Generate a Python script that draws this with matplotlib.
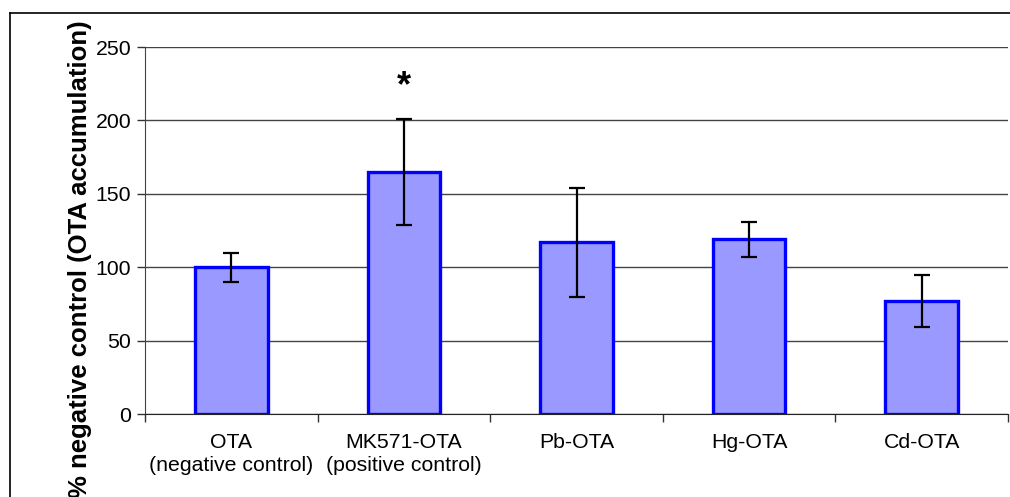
import matplotlib
matplotlib.use("Agg")
import matplotlib.pyplot as plt
from matplotlib.lines import Line2D

plt.rcParams['font.family'] = ['Liberation Sans', 'DejaVu Sans']

categories = ["OTA\n(negative control)", "MK571-OTA\n(positive control)", "Pb-OTA", "Hg-OTA", "Cd-OTA"]
values = [100, 165, 117, 119, 77]
errors = [10, 36, 37, 12, 18]
significance = ["", "*", "", "", ""]
yticks = [0, 50, 100, 150, 200, 250]

W, H = 1010, 497
fig = plt.figure(figsize=(W / 100, H / 100), dpi=100)
ax = fig.add_axes([145 / W, (H - 414) / H, (1008 - 145) / W, (414 - 47) / H])

x = list(range(len(categories)))
ax.bar(x, values, width=0.42, color="#9999FF", edgecolor="#0000FF", linewidth=2.4, zorder=3)
ax.errorbar(x, values, yerr=errors, fmt="none", ecolor="black", elinewidth=1.6,
            capsize=6, capthick=1.6, zorder=4)
for xi, v, e, s in zip(x, values, errors, significance):
    if s:
        ax.text(xi, v + e + 10, s, ha="center", va="bottom", fontsize=26, fontweight="bold")

ax.set_xlim(-0.5, len(categories) - 0.5)
ax.set_ylim(0, 250)
ax.set_yticks(yticks)
ax.yaxis.grid(True, color="#444444", linewidth=1.0, zorder=0)
ax.set_axisbelow(True)

ax.set_xticks(x)
ax.set_xticklabels(categories, fontsize=15.3, linespacing=1.25)
ax.set_xticks([i - 0.5 for i in range(len(categories) + 1)], minor=True)
ax.tick_params(axis="x", which="major", length=0, pad=14)
ax.tick_params(axis="x", which="minor", length=6, width=1, direction="out", color="#333333")
ax.tick_params(axis="y", labelsize=15.3, length=6, width=1, direction="out", pad=4, color="#333333")

for side in ["top", "right"]:
    ax.spines[side].set_visible(False)
ax.spines["left"].set_color("#444444")
ax.spines["bottom"].set_color("#222222")

fig.text(80 / W, 1 - 20 / H, "% negative control (OTA accumulation)", rotation=90,
         ha="center", va="top", fontsize=18.5, fontweight="bold")

# outer chart frame (cropped)
fig.add_artist(Line2D([10 / W, 10 / W], [1 - 13 / H, -0.1], color="black", linewidth=1.2,
                      transform=fig.transFigure))
fig.add_artist(Line2D([10 / W, 1.1], [1 - 13 / H, 1 - 13 / H], color="black", linewidth=1.2,
                      transform=fig.transFigure))

fig.savefig("out.png", dpi=100)
